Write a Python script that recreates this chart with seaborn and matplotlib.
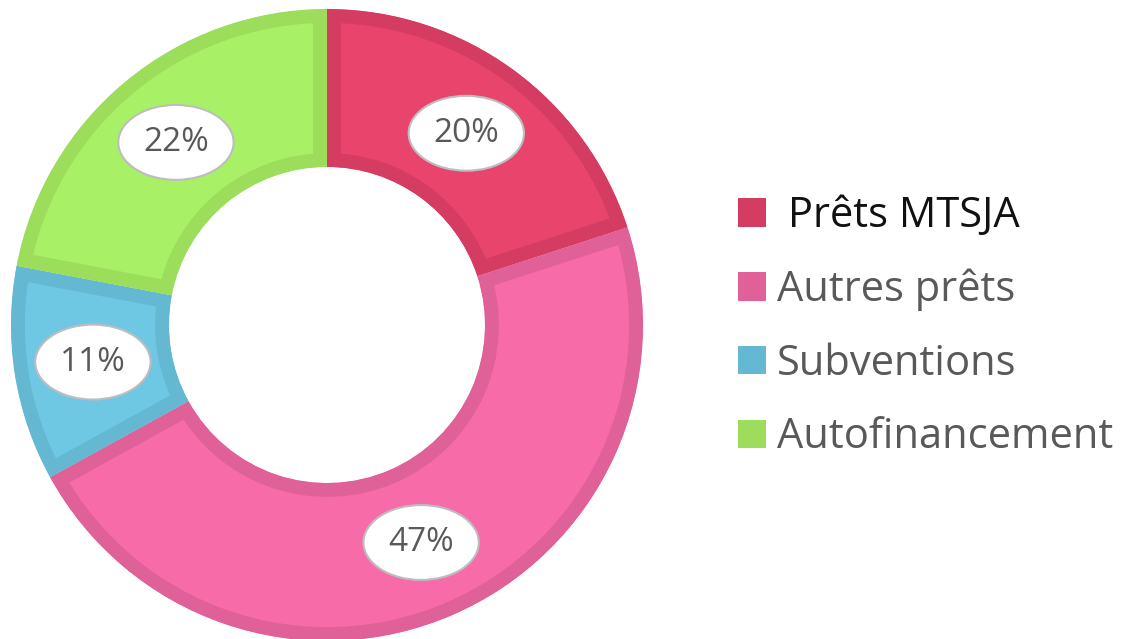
import numpy as np
import matplotlib
matplotlib.use("Agg")
import matplotlib.pyplot as plt
from matplotlib.patches import Ellipse, Patch
import seaborn as sns

categories = ["Prêts MTSJA", "Autres prêts", "Subventions", "Autofinancement"]
shares = [20, 47, 11, 22]
fill_colors = ["#E8446C", "#F76BA8", "#6EC8E4", "#A8F066"]
edge_colors = ["#D43C62", "#E06098", "#64B8D2", "#9CDE5C"]

sns.set_theme(style="white")
plt.rcParams["font.family"] = ["Open Sans", "DejaVu Sans"]

fig = plt.figure(figsize=(11.27, 6.39), dpi=100)
W, H = 1127, 639
cx, cy, R = 327, 325, 316
ax = fig.add_axes([(cx - R) / W, (H - cy - R) / H, 2 * R / W, 2 * R / H])

ring = 0.5
wedges, _ = ax.pie(shares, colors=fill_colors, startangle=90, counterclock=False,
                   radius=1.0, wedgeprops=dict(width=ring, linewidth=0))
ax.set_xlim(-1, 1)
ax.set_ylim(-1, 1)
ax.set_aspect("equal")
ax.axis("off")

# darker inner border on each wedge: thick stroke clipped to the wedge itself
for w, ec in zip(wedges, edge_colors):
    w.set_edgecolor(ec)
    w.set_linewidth(20)
    w.set_joinstyle("miter")
    w.set_clip_on(True)
    w.set_clip_path(w)

# value labels in white ellipses
r_mid = 1.0 - ring / 2
for w, v in zip(wedges, shares):
    ang = np.deg2rad((w.theta1 + w.theta2) / 2)
    x, y = r_mid * np.cos(ang), r_mid * np.sin(ang)
    ax.add_patch(Ellipse((x, y), 0.365, 0.237, facecolor="white",
                         edgecolor="#BDBDBD", linewidth=1.5, zorder=5))
    ax.text(x, y, f"{v}%", ha="center", va="center", fontsize=24,
            color="#595959", zorder=6)

handles = [Patch(facecolor=c, edgecolor="none") for c in edge_colors]
labels = [" " + categories[0]] + categories[1:]
leg = fig.legend(handles, labels, loc="upper left",
                 bbox_to_anchor=(738 / W, 1 - 195 / H), frameon=False,
                 fontsize=30, handlelength=0.67, handleheight=0.67,
                 handletextpad=0.26, labelspacing=0.76, borderpad=0,
                 borderaxespad=0)
for i, t in enumerate(leg.get_texts()):
    t.set_color("#111111" if i == 0 else "#595959")

fig.savefig("out.png", dpi=100, facecolor="white")
